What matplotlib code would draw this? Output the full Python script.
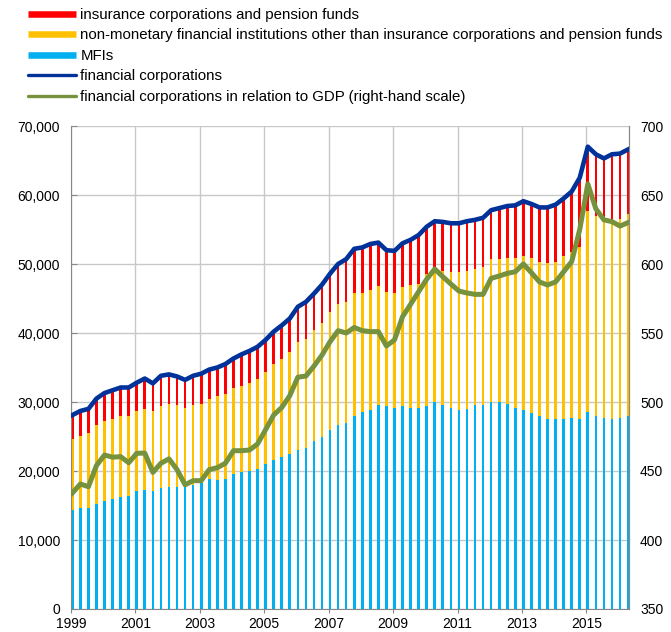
import numpy as np
import matplotlib
matplotlib.use("Agg")
import matplotlib.pyplot as plt
from matplotlib.lines import Line2D
from matplotlib.ticker import FuncFormatter

plt.rcParams['font.family'] = ['Liberation Sans', 'DejaVu Sans']
plt.rcParams['font.size'] = 10

# quarterly data, 1999 Q1 - 2016 Q2 (EUR billions)
quarters = np.arange(1999, 2016.5, 0.25)

# MFIs
mfi = [14.3, 14.6, 14.7, 15.2, 15.7, 16.0, 16.2, 16.4, 17.1, 17.2,
       17.1, 17.6, 17.7, 17.7, 17.7, 18.0, 18.2, 18.8, 18.7, 18.8,
       19.5, 19.9, 20.0, 20.3, 21.0, 21.6, 22.0, 22.5, 23.1, 23.4,
       24.3, 24.9, 25.9, 26.6, 26.9, 27.9, 28.6, 28.9, 29.5, 29.4,
       29.2, 29.4, 29.1, 29.1, 29.4, 30.0, 29.6, 29.1, 28.9, 29.0,
       29.6, 29.6, 30.0, 30.0, 29.7, 29.1, 28.8, 28.4, 27.9, 27.5,
       27.5, 27.5, 27.7, 27.6, 28.5, 27.9, 27.7, 27.5, 27.7, 28.0]
# MFIs + other non-monetary financial institutions (cumulative)
mfi_ofi = [24.6, 25.1, 25.5, 26.6, 27.2, 27.5, 27.9, 28.0, 28.7, 29.0,
           28.7, 29.4, 29.7, 29.5, 29.1, 29.6, 29.7, 30.4, 30.8, 31.2,
           32.0, 32.3, 32.7, 33.3, 34.3, 35.5, 36.2, 37.2, 38.7, 39.2,
           40.4, 41.5, 43.0, 44.2, 44.5, 45.8, 45.8, 46.3, 46.8, 46.0,
           45.8, 46.7, 46.9, 47.1, 48.6, 49.1, 49.0, 48.8, 48.9, 49.0,
           49.3, 49.5, 50.7, 50.7, 50.8, 50.9, 51.2, 50.8, 50.3, 50.1,
           50.3, 51.2, 51.8, 52.5, 57.7, 57.0, 56.4, 56.3, 56.5, 57.2]
# financial corporations total
fin_corp = [28.1, 28.7, 29.0, 30.5, 31.3, 31.7, 32.1, 32.1, 32.8, 33.4,
            32.7, 33.8, 34.0, 33.7, 33.2, 33.8, 34.1, 34.7, 35.0, 35.5,
            36.3, 36.9, 37.4, 38.0, 39.0, 40.2, 41.1, 42.1, 43.8, 44.5,
            45.7, 47.0, 48.6, 50.0, 50.7, 52.2, 52.4, 52.9, 53.1, 52.0,
            51.9, 53.0, 53.5, 54.2, 55.4, 56.2, 56.1, 55.9, 55.9, 56.2,
            56.4, 56.7, 57.8, 58.1, 58.4, 58.5, 59.1, 58.7, 58.2, 58.2,
            58.6, 59.5, 60.5, 62.5, 67.0, 65.9, 65.3, 65.9, 66.0, 66.6]
# financial corporations in relation to GDP (right-hand scale)
gdp_ratio = [434, 440.6, 438.6, 454, 461.6, 460, 460.4, 456, 462.8, 463,
             449, 455.6, 458.8, 451, 440, 443, 443, 451, 452.4, 455.6,
             464.7, 464.7, 465.2, 469.6, 480, 490.6, 496, 504.6, 518, 518.8,
             526, 534, 543.7, 551.7, 550, 554, 551.7, 551, 551, 540.6,
             545, 561.8, 570.8, 580, 589, 596.4, 590.8, 585.5, 580.4, 579,
             578, 578, 589.6, 591.3, 593.2, 594.4, 600, 593.7, 587, 584.8,
             587, 594.4, 601.7, 625, 658, 640, 632, 630.7, 627.5, 630]

mfi = np.array(mfi) * 1000
mfi_ofi = np.array(mfi_ofi) * 1000
fin_corp = np.array(fin_corp) * 1000
ofi = mfi_ofi - mfi
icpf = fin_corp - mfi_ofi

c_red = '#FF0000'
c_yel = '#FFC000'
c_lblue = '#00B0F0'
c_dblue = '#003299'
c_green = '#76923C'

fig = plt.figure(figsize=(6.71, 6.32), dpi=100)
ax = fig.add_axes([71 / 671, 1 - 609 / 632, (629 - 71) / 671, (609 - 126) / 632])

w = 0.082
ax.bar(quarters, mfi, width=w, align='edge', color=c_lblue, zorder=2)
ax.bar(quarters, ofi, width=w, bottom=mfi, align='edge', color=c_yel, zorder=2)
ax.bar(quarters, icpf, width=w, bottom=mfi_ofi, align='edge', color=c_red, zorder=2)
ax.plot(quarters + w / 2, fin_corp, color=c_dblue, lw=3.3, zorder=3,
        solid_joinstyle='round')

ax.set_xlim(1999, 2016.32)
ax.set_ylim(0, 70000)
ax.set_xticks(np.arange(1999, 2016, 2))
ax.set_yticks(np.arange(0, 70001, 10000))
ax.yaxis.set_major_formatter(FuncFormatter(lambda v, p: f'{int(v):,}'))
ax.grid(True, color='#C8C8C8', lw=1, zorder=0)
ax.set_axisbelow(True)
ax.tick_params(axis='y', direction='in', length=4, pad=8, colors='#888888',
               labelcolor='black', labelsize=10)
ax.tick_params(axis='x', direction='out', length=3, pad=3, colors='#888888',
               labelcolor='black', labelsize=10)
for s in ['left', 'bottom', 'right']:
    ax.spines[s].set_color('#888888')
ax.spines['top'].set_visible(False)

ax2 = ax.twinx()
ax2.plot(quarters + w / 2, gdp_ratio, color=c_green, lw=3.6, zorder=3,
         solid_joinstyle='round')
ax2.set_ylim(350, 700)
ax2.set_yticks(np.arange(350, 701, 50))
ax2.tick_params(axis='y', length=0, pad=8, labelsize=10)
for s in ['left', 'top', 'bottom']:
    ax2.spines[s].set_visible(False)
ax2.spines['right'].set_color('#888888')

handles = [
    Line2D([], [], color=c_red, lw=4.7, solid_capstyle='butt'),
    Line2D([], [], color=c_yel, lw=4.7, solid_capstyle='butt'),
    Line2D([], [], color=c_lblue, lw=4.7, solid_capstyle='butt'),
    Line2D([], [], color=c_dblue, lw=2.4, solid_capstyle='round'),
    Line2D([], [], color=c_green, lw=2.4, solid_capstyle='round'),
]
labels = [
    'insurance corporations and pension funds',
    'non-monetary financial institutions other than insurance corporations and pension funds',
    'MFIs',
    'financial corporations',
    'financial corporations in relation to GDP (right-hand scale)',
]
fig.legend(handles, labels, loc='upper left', bbox_to_anchor=(28 / 671, 1 - 8 / 632),
           frameon=False, borderpad=0, borderaxespad=0, handlelength=3.2,
           handletextpad=0.3, labelspacing=0.43, fontsize=10.8)

fig.savefig('out.png', dpi=100)
